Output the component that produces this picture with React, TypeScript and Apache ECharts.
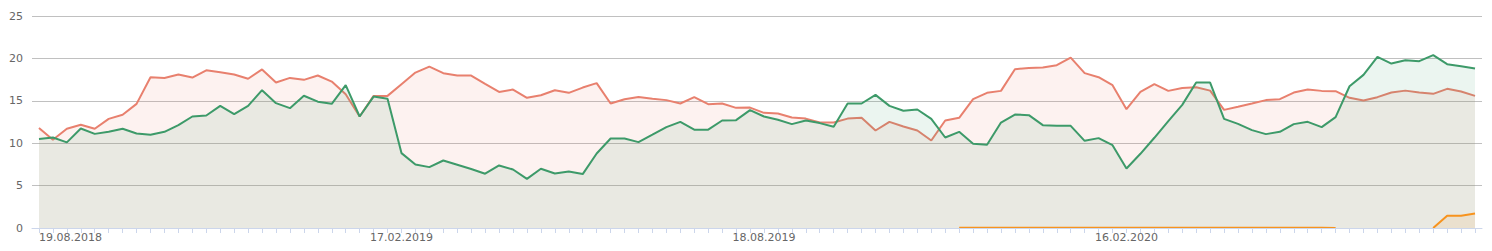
import React, { useEffect, useRef } from "react";
import * as echarts from "echarts";

const START = new Date(Date.UTC(2018, 7, 19));
const N = 104;
const categories: string[] = [];
for (let i = 0; i < N; i++) {
  const d = new Date(START.getTime() + i * 7 * 86400000);
  const dd = String(d.getUTCDate()).padStart(2, "0");
  const mm = String(d.getUTCMonth() + 1).padStart(2, "0");
  categories.push(`${dd}.${mm}.${d.getUTCFullYear()}`);
}

const redSeries = [
  11.78, 10.4, 11.7, 12.17, 11.7, 12.87, 13.35, 14.64, 17.78, 17.7,
  18.1, 17.74, 18.6, 18.37, 18.1, 17.6, 18.7, 17.15, 17.7, 17.47,
  17.98, 17.27, 15.78, 13.15, 15.58, 15.58, 16.96, 18.33, 19.03, 18.26,
  17.98, 17.98, 17.0, 16.05, 16.33, 15.35, 15.66, 16.25, 15.94, 16.56,
  17.08, 14.68, 15.19, 15.46, 15.23, 15.08, 14.68, 15.43, 14.6, 14.68,
  14.17, 14.2, 13.58, 13.5, 13.03, 12.9, 12.44, 12.44, 12.9, 12.99,
  11.5, 12.52, 11.97, 11.5, 10.32, 12.68, 12.99, 15.19, 15.94, 16.17,
  18.73, 18.88, 18.92, 19.2, 20.1, 18.26, 17.78, 16.84, 14.01, 16.05,
  16.96, 16.17, 16.52, 16.6, 16.2, 13.93, 14.29, 14.68, 15.08, 15.19,
  15.97, 16.33, 16.17, 16.13, 15.35, 15.03, 15.43, 15.97, 16.2, 15.97,
  15.82, 16.41, 16.09, 15.58,
];

const greenSeries = [
  10.5, 10.67, 10.1, 11.74, 11.1, 11.34, 11.7, 11.15, 11.0, 11.34,
  12.13, 13.15, 13.27, 14.4, 13.43, 14.4, 16.25, 14.72, 14.13, 15.6,
  14.9, 14.64, 16.84, 13.15, 15.5, 15.23, 8.83, 7.49, 7.18, 7.96,
  7.46, 6.95, 6.4, 7.38, 6.9, 5.8, 6.98, 6.43, 6.67, 6.36,
  8.79, 10.55, 10.55, 10.13, 11.0, 11.9, 12.52, 11.6, 11.6, 12.68,
  12.72, 13.9, 13.15, 12.76, 12.25, 12.68, 12.37, 11.93, 14.68, 14.68,
  15.7, 14.4, 13.82, 13.97, 12.87, 10.67, 11.34, 9.93, 9.81, 12.44,
  13.38, 13.31, 12.13, 12.05, 12.05, 10.28, 10.6, 9.77, 7.02, 8.75,
  10.64, 12.6, 14.52, 17.15, 17.15, 12.87, 12.28, 11.54, 11.07, 11.34,
  12.25, 12.52, 11.9, 13.07, 16.72, 18.06, 20.18, 19.39, 19.79, 19.67,
  20.38, 19.32, 19.08, 18.8,
];

const orangeSeries: (number | null)[] = [
  null, null, null, null, null, null, null, null, null, null,
  null, null, null, null, null, null, null, null, null, null,
  null, null, null, null, null, null, null, null, null, null,
  null, null, null, null, null, null, null, null, null, null,
  null, null, null, null, null, null, null, null, null, null,
  null, null, null, null, null, null, null, null, null, null,
  null, null, null, null, null, null, 0.02, 0.02, 0.02, 0.02,
  0.02, 0.02, 0.02, 0.02, 0.02, 0.02, 0.02, 0.02, 0.02, 0.02,
  0.02, 0.02, 0.02, 0.02, 0.02, 0.02, 0.02, 0.02, 0.02, 0.02,
  0.02, 0.02, 0.02, 0, null, null, null, null, null, null,
  0, 1.45, 1.45, 1.7,
];

const yTicks = [0, 5, 10, 15, 20, 25];

export default function App() {
  const ref = useRef<HTMLDivElement>(null);
  useEffect(() => {
    if (!ref.current) return;
    const chart = echarts.init(ref.current, null, { renderer: "svg" });
    const font = "DejaVu Sans, Verdana, sans-serif";
    chart.setOption({
      animation: false,
      grid: { left: 32, right: 10, top: 16, bottom: 23, containLabel: false },
      xAxis: {
        type: "category",
        data: categories,
        boundaryGap: true,
        z: 10,
        axisLine: { show: true, lineStyle: { color: "#ccd6eb", width: 1 } },
        axisTick: { show: true, interval: 0, alignWithLabel: true, length: 5, lineStyle: { color: "#ccd6eb" } },
        axisLabel: {
          interval: 25,
          margin: 4,
          color: "#666666",
          fontSize: 11,
          fontFamily: font,
          alignMinLabel: "left",
        },
        splitLine: { show: false },
      },
      yAxis: {
        type: "value",
        min: yTicks[0],
        max: yTicks[yTicks.length - 1],
        interval: 5,
        axisLine: { show: false },
        axisTick: { show: false },
        axisLabel: { color: "#666666", fontSize: 11, fontFamily: font, margin: 9 },
        splitLine: { lineStyle: { color: "#c0c0c0", width: 1 } },
      },
      series: [
        {
          type: "line",
          name: "red",
          data: redSeries,
          symbol: "none",
          lineStyle: { color: "#e8806e", width: 2 },
          itemStyle: { color: "#e8806e" },
          areaStyle: { color: "rgba(232,128,110,0.1)", opacity: 1 },
          z: 2,
        },
        {
          type: "line",
          name: "green",
          data: greenSeries,
          symbol: "none",
          lineStyle: { color: "#3d9a69", width: 2 },
          itemStyle: { color: "#3d9a69" },
          areaStyle: { color: "rgba(61,154,105,0.1)", opacity: 1 },
          z: 3,
        },
        {
          type: "line",
          name: "orange",
          data: orangeSeries,
          symbol: "none",
          connectNulls: false,
          lineStyle: { color: "#f7931e", width: 2 },
          itemStyle: { color: "#f7931e" },
          areaStyle: { color: "rgba(247,147,30,0.1)", opacity: 1 },
          z: 4,
        },
      ],
    });
    return () => chart.dispose();
  }, []);
  return (
    <div
      ref={ref}
      style={{ position: "fixed", left: 0, top: 0, width: 1492, height: 251, background: "#ffffff" }}
    />
  );
}
